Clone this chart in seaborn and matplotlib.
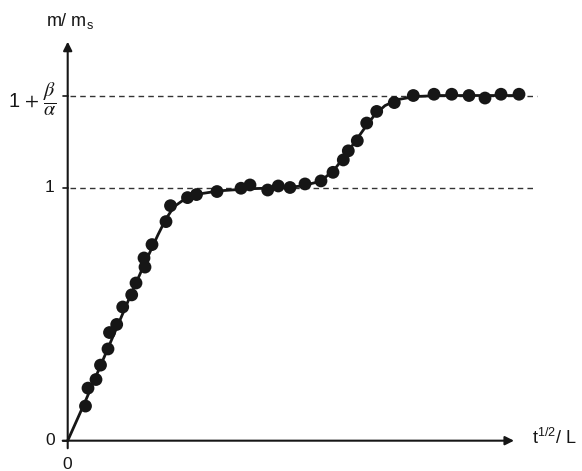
import matplotlib
matplotlib.use("Agg")
import matplotlib.pyplot as plt
import numpy as np
import pandas as pd
import seaborn as sns

sns.set_theme(style="white")
plt.rcParams["font.family"] = ["Liberation Sans", "DejaVu Sans"]

# measured uptake m/m_s against t^(1/2)/L
x_meas = [0.178, 0.203, 0.283, 0.328, 0.403, 0.418, 0.490, 0.550, 0.640, 0.683,
          0.763, 0.773, 0.843, 0.983, 1.028, 1.198, 1.288, 1.493, 1.733, 1.823,
          2.000, 2.106, 2.223, 2.373, 2.533, 2.653, 2.756, 2.806, 2.896, 2.990,
          3.090, 3.266, 3.456, 3.663, 3.840, 4.013, 4.173, 4.333, 4.513]
y_meas = [0.137, 0.208, 0.242, 0.299, 0.363, 0.428, 0.460, 0.529, 0.577, 0.624,
          0.723, 0.687, 0.776, 0.867, 0.930, 0.962, 0.974, 0.986, 0.999, 1.012,
          0.992, 1.008, 1.002, 1.016, 1.028, 1.062, 1.111, 1.147, 1.187, 1.257,
          1.303, 1.338, 1.366, 1.371, 1.371, 1.366, 1.356, 1.371, 1.371]

# model curve
x_fit = [0.0, 0.173, 0.323, 0.473, 0.623, 0.773, 0.903, 0.983, 1.063, 1.173,
         1.323, 1.523, 1.823, 2.123, 2.323, 2.473, 2.573, 2.673, 2.773, 2.873,
         2.973, 3.073, 3.173, 3.303, 3.473, 3.723, 4.123, 4.523]
y_fit = [0.0, 0.153, 0.292, 0.431, 0.570, 0.704, 0.815, 0.878, 0.926, 0.957,
         0.977, 0.989, 0.997, 1.001, 1.007, 1.021, 1.041, 1.076, 1.128, 1.183,
         1.239, 1.291, 1.326, 1.350, 1.362, 1.366, 1.366, 1.366]

plateau_1 = 1.0
plateau_2 = 1.366   # 1 + beta/alpha

fig = plt.figure(figsize=(5.82, 4.71), dpi=100)
ax = fig.add_axes([0, 0, 1, 1])
ax.set_xlim(-0.677, 5.143)
ax.set_ylim(-0.120, 1.744)
ax.axis("off")

ink = "#161616"

fit = pd.DataFrame({"x": x_fit, "y": y_fit})
meas = pd.DataFrame({"x": x_meas, "y": y_meas})
sns.lineplot(data=fit, x="x", y="y", sort=False, color=ink, lw=2.0, ax=ax, zorder=3)
sns.scatterplot(data=meas, x="x", y="y", color=ink, s=85, edgecolor="none",
                ax=ax, zorder=4)

# dashed plateau levels
ax.plot([0.023, 4.66], [plateau_1, plateau_1], ls=(0, (4, 3)), lw=1.0, color="#333333", zorder=1)
ax.plot([0.023, 4.69], [plateau_2, plateau_2], ls=(0, (4, 3)), lw=1.0, color="#333333", zorder=1)

# axes drawn as arrows
arrow = dict(arrowstyle="-|>", lw=1.5, color=ink, mutation_scale=13, shrinkA=0, shrinkB=0)
ax.annotate("", xy=(0, 1.579), xytext=(0, -0.03), arrowprops=arrow, zorder=2)
ax.annotate("", xy=(4.463, 0), xytext=(-0.05, 0), arrowprops=arrow, zorder=2)

# small ticks
for yv in (0.0, plateau_1, plateau_2):
    ax.plot([-0.05, 0], [yv, yv], color=ink, lw=1.2)

fs = 12.5
ax.text(-0.177, 0.0, "0", ha="center", va="center", fontsize=fs, color=ink)
ax.text(-0.184, plateau_1, "1", ha="center", va="center", fontsize=fs, color=ink)
ax.text(-0.107, plateau_2 - 0.014,
        r"$\mathregular{1}\,+\,\dfrac{\beta}{\alpha}$", ha="right", va="center",
        fontsize=14.5, color=ink, math_fontfamily="stix")
ax.text(-0.01, -0.095, "0", ha="center", va="center", fontsize=fs, color=ink)
ax.text(4.643, 0.012, r"t$^{\mathregular{1/2}}$/ L", ha="left", va="center",
        fontsize=13, color=ink)
ax.text(0.023, 1.661, r"m/ m$_{\mathregular{s}}$", ha="center", va="center",
        fontsize=13, color=ink)

fig.savefig("out.png", dpi=100)
